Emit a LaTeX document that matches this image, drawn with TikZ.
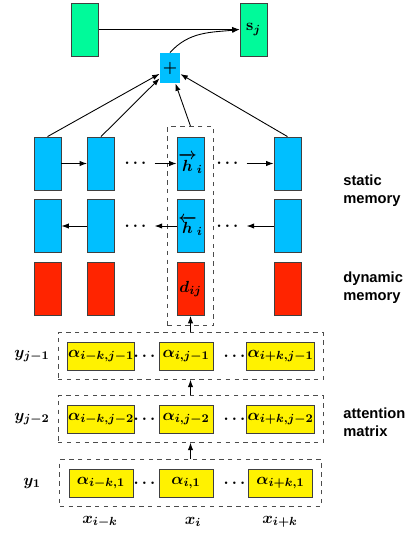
\documentclass[tikz,border=0pt]{standalone}
\usepackage{amsmath,bm}
\usepackage{fontspec}
\setsansfont{Liberation Sans}
\usetikzlibrary{fit,arrows.meta}
\definecolor{mint}{RGB}{0,250,154}
\definecolor{sky}{RGB}{0,191,255}
\definecolor{brick}{RGB}{255,36,0}
\tikzset{
  cell/.style={draw=black!75, minimum width=18.4pt, minimum height=36pt, inner sep=0pt},
  alpha/.style={draw=black!75, fill=yellow, minimum height=19pt, inner sep=0.5pt},
  group/.style={draw=black!70, dashed, inner sep=6pt},
  side/.style={font=\sffamily\bfseries, align=left, anchor=west},
}
\begin{document}
\begin{tikzpicture}[x=0.68pt, y=-0.68pt, font=\fontsize{11}{13}\selectfont\boldmath, semithick, >={Latex[length=5pt,width=3.6pt]}]
\useasboundingbox (0,0) rectangle (416,533);
% output and sum
\node[cell, fill=mint] (g1) at (85,29.5) {};
\node[cell, fill=mint] (sj) at (253.5,29.5) {$\mathbf{s}_j$};
\node[fill=sky, minimum width=13.6pt, minimum height=20.4pt, inner sep=0pt] (plus) at (170,68) {$+$};
\draw[->] (g1) -- (sj);
\draw[->] (plus.north) to[out=48, in=186] (sj.west);
% memory columns
\foreach \n/\x/\ft/\bt/\dt in {1/47.5/{}/{}/{}, 2/101/{}/{}/{},
    3/190.5/{$\overrightarrow{h}_i$}/{$\overleftarrow{h}_i$}/{$d_{ij}$}, 4/287.5/{}/{}/{}} {
  \node[cell, fill=sky] (f\n) at (\x,163.5) {\ft};
  \node[cell, fill=sky] (b\n) at (\x,226) {\bt};
  \node[cell, fill=brick] (d\n) at (\x,289) {\dt};
}
\node[group, fit=(f3)(d3), inner xsep=6pt, inner ysep=6.8pt] (mem) {};
% forward
\draw[->] (f1) -- (f2);
\node (fdots1) at (137,163.5) {$\dots$};
\draw[->] (fdots1) -- (f3);
\node (fdots2) at (229,163.5) {$\dots$};
\draw[->] (fdots2) -- (f4);
% backward
\draw[->] (b2) -- (b1);
\node (bdots1) at (137,226) {$\dots$};
\draw[->] (b3) -- (bdots1);
\node (bdots2) at (229,226) {$\dots$};
\draw[->] (b4) -- (bdots2);
% into the sum
\draw[->] (f1.north) -- (plus);
\draw[->] (f2.north) -- (plus);
\draw[->] (mem.north) -- (plus);
\draw[->] (f4.north) -- (plus);
% attention rows
\foreach \r/\y/\j in {1/356/{j-1}, 2/419/{j-2}, 3/483/1} {
  \node[alpha, minimum width=43.5pt] (a\r1) at (101,\y) {$\alpha_{i-k,\j}$};
  \node[alpha, minimum width=36.7pt] (a\r2) at (186,\y) {$\alpha_{i,\j}$};
  \node[alpha, minimum width=43pt] (a\r3) at (280.5,\y) {$\alpha_{i+k,\j}$};
  \node (ad\r1) at (146,\y) {$\dots$};
  \node (ad\r2) at (236,\y) {$\dots$};
  \node[group, fit=(a\r1)(a\r3)] (att\r) {};
  \node (y\r) at (32,\y) {$y_{\j}$};
}
\draw[->] (att3.north -| mem) -- (att2.south -| mem);
\draw[->] (att2.north -| mem) -- (att1.south -| mem);
\draw[->] (att1.north -| mem) -- (d3.south);
% inputs
\node (xl) at (100,522) {$x_{i-k}$};
\node (xm) at (193,522) {$x_i$};
\node (xr) at (280,522) {$x_{i+k}$};
% side labels
\node[side] (stat) at (338,191) {static\\memory};
\node[side] (dyn) at (338,288) {dynamic\\memory};
\node[side] (attn) at (338,422) {attention\\matrix};
\end{tikzpicture}
\end{document}
